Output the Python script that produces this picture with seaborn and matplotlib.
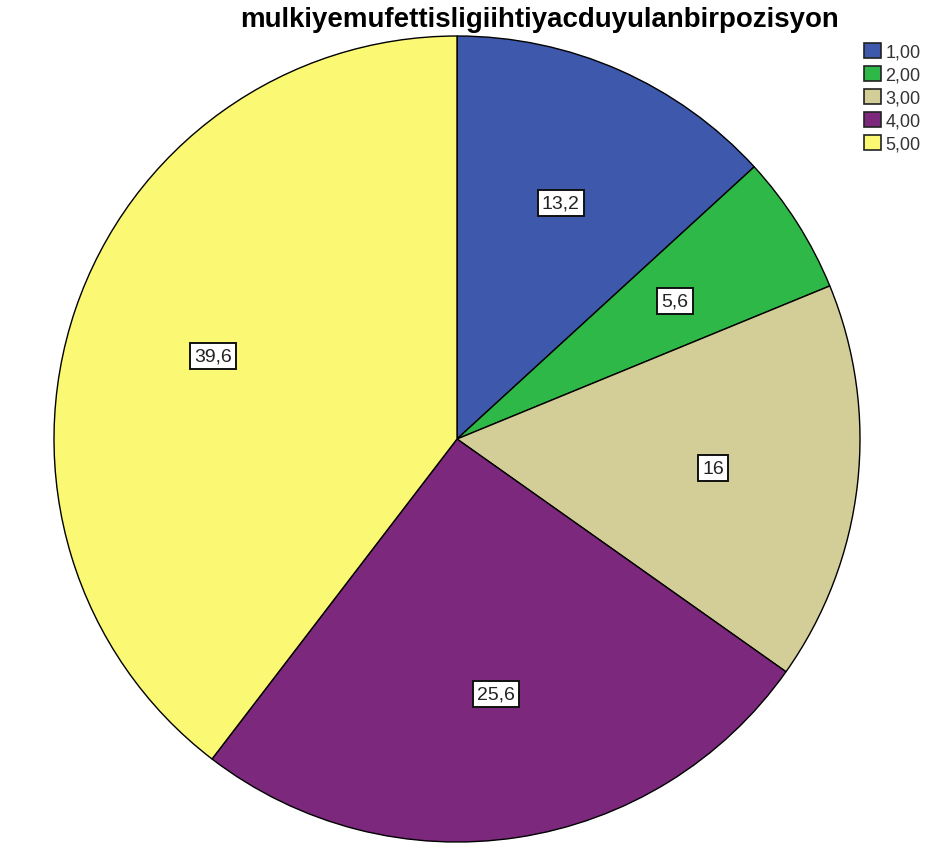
import matplotlib
matplotlib.use("Agg")
import matplotlib.pyplot as plt
from matplotlib.patches import Patch
import numpy as np
import seaborn as sns

categories = ["1,00", "2,00", "3,00", "4,00", "5,00"]
percentages = [13.2, 5.6, 16.0, 25.6, 39.6]
colors = ["#3E58AC", "#2EB848", "#D3CE97", "#7C287D", "#FBF873"]
title = "mulkiyemufettisligiihtiyacduyulanbirpozisyon"

sns.set_style("white")
plt.rcParams["font.family"] = ["Liberation Sans", "DejaVu Sans"]

fig = plt.figure(figsize=(9.27, 8.45), dpi=100)
ax = fig.add_axes([54 / 927, 2 / 845, 806 / 927, 806 / 845])

wedges, _ = ax.pie(
    percentages,
    colors=colors,
    startangle=90,
    counterclock=False,
    radius=1.0,
    wedgeprops=dict(edgecolor="black", linewidth=1.0),
)


def fmt(v):
    return f"{v:g}".replace(".", ",")


# value boxes placed along each wedge's bisector
for w, v in zip(wedges, percentages):
    mid = np.deg2rad((w.theta1 + w.theta2) / 2)
    r = 0.64
    ax.text(r * np.cos(mid), r * np.sin(mid), fmt(v),
            ha="center", va="center", fontsize=14, color="#222222",
            bbox=dict(boxstyle="square,pad=0.22", facecolor="white",
                      edgecolor="#111111", linewidth=1.4))

ax.set_xlim(-1.0, 1.0)
ax.set_ylim(-1.0, 1.0)
ax.set_aspect("equal")
ax.axis("off")

fig.text(539 / 927, 1 - 27 / 845, title, ha="center", va="baseline",
         fontsize=19.9, fontweight="bold", color="black")

handles = [Patch(facecolor=c, edgecolor="#222222", linewidth=1.2) for c in colors]
fig.legend(handles, categories, loc="upper left",
           bbox_to_anchor=(860 / 927, 1 - 40 / 845),
           frameon=False, fontsize=13, handlelength=0.95, handleheight=0.95,
           handletextpad=0.25, labelspacing=0.28, borderpad=0.2,
           borderaxespad=0.0, labelcolor="#333333")

fig.savefig("out.png", dpi=100)
